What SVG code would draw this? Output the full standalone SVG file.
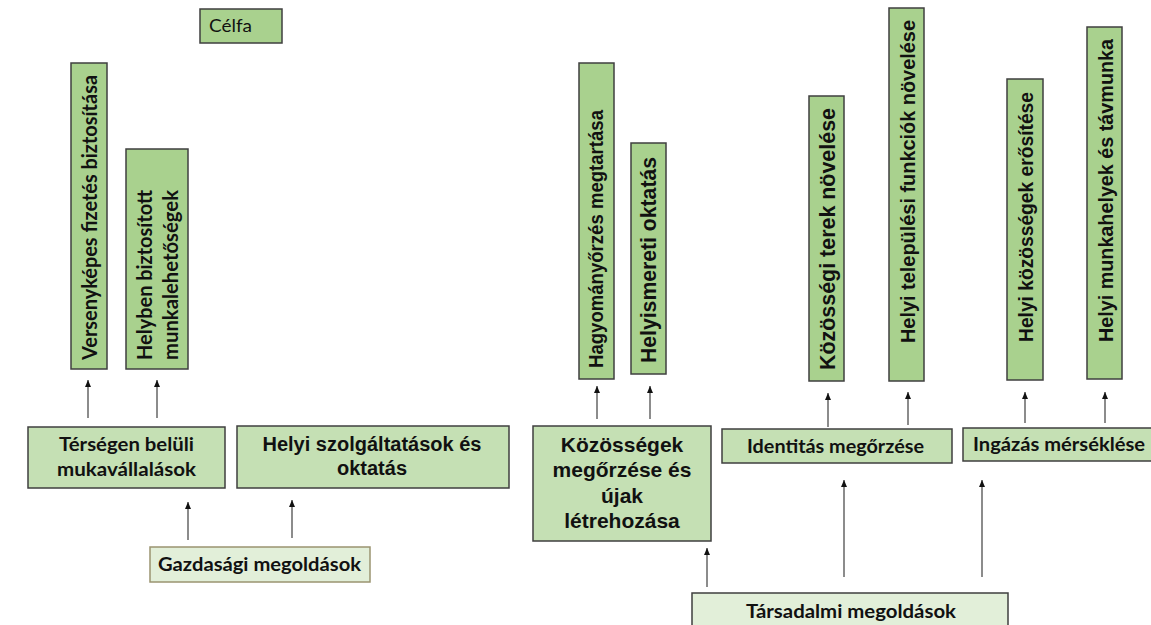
<svg xmlns="http://www.w3.org/2000/svg" width="1151" height="625" viewBox="0 0 1151 625">
<style>
.bar{fill:#a9d18e;stroke:#3f3f3f;stroke-width:1.5}
.box{fill:#c5e0b4;stroke:#3f3f3f;stroke-width:1.5}
.root{fill:#e2efd9;stroke:#3f3f3f;stroke-width:1.5}
.gaz{fill:#e2efd9;stroke:#9a9470;stroke-width:1.5}
.ar{font-family:"Liberation Sans",Arial,sans-serif;font-weight:bold;fill:#111}
.ca{font-family:Lato,"Open Sans",sans-serif;font-weight:bold;fill:#111}
.cn{font-family:Lato,"Open Sans",sans-serif;fill:#111}
.mid{text-anchor:middle}
.conn line{stroke:#666;stroke-width:1.5;marker-end:url(#ah)}
</style>
<defs>
<marker id="ah" markerUnits="userSpaceOnUse" markerWidth="8" markerHeight="7" refX="7" refY="3" orient="auto">
<path d="M0,0 L7,3 L0,6 z" fill="#111"/>
</marker>
</defs>
<rect width="1151" height="625" fill="#fff"/>

<g id="celfa">
<rect class="bar" x="200" y="9" width="82" height="34"/>
<text class="cn" x="209" y="32" font-size="18" textLength="43" lengthAdjust="spacingAndGlyphs">Célfa</text>
</g>

<g id="versenykepes">
<rect class="bar" x="71" y="63" width="36" height="306"/>
<text class="ca" transform="translate(97,360) rotate(-90)" font-size="20.5" textLength="285" lengthAdjust="spacingAndGlyphs">Versenyképes fizetés biztosítása</text>
</g>
<g id="helyben">
<rect class="bar" x="126" y="149" width="62" height="220"/>
<text class="ca" transform="translate(152,360) rotate(-90)" font-size="20.5" textLength="170" lengthAdjust="spacingAndGlyphs">Helyben biztosított</text>
<text class="ca" transform="translate(178,360) rotate(-90)" font-size="20.5" textLength="170" lengthAdjust="spacingAndGlyphs">munkalehetőségek</text>
</g>

<g id="tersegen">
<rect class="box" x="28" y="427" width="197" height="61"/>
<text class="ca mid" x="126.5" y="451" font-size="19.5" textLength="135" lengthAdjust="spacingAndGlyphs">Térségen belüli</text>
<text class="ca mid" x="126.5" y="476" font-size="19.5" textLength="139" lengthAdjust="spacingAndGlyphs">mukavállalások</text>
</g>
<g id="helyi-szolg">
<rect class="box" x="237" y="426" width="272" height="62"/>
<text class="ar mid" x="372" y="451" font-size="20">Helyi szolgáltatások és</text>
<text class="ar mid" x="372" y="475" font-size="20">oktatás</text>
</g>
<g id="gazdasagi">
<rect class="gaz" x="150" y="547" width="220" height="35"/>
<text class="ca mid" x="259.5" y="571" font-size="19.5" textLength="203" lengthAdjust="spacingAndGlyphs">Gazdasági megoldások</text>
</g>

<g id="hagyomany">
<rect class="bar" x="579" y="63" width="35" height="316"/>
<text class="ar" transform="translate(603,368) rotate(-90)" font-size="20" textLength="258" lengthAdjust="spacingAndGlyphs">Hagyományőrzés megtartása</text>
</g>
<g id="helyismereti">
<rect class="bar" x="631" y="143" width="35" height="231"/>
<text class="ar" transform="translate(656,363) rotate(-90)" font-size="21.5" textLength="206" lengthAdjust="spacingAndGlyphs">Helyismereti  oktatás</text>
</g>
<g id="kozossegi-terek">
<rect class="bar" x="809" y="96" width="35" height="285"/>
<text class="ar" transform="translate(835,370) rotate(-90)" font-size="22" textLength="262" lengthAdjust="spacingAndGlyphs">Közösségi terek növelése</text>
</g>
<g id="telepulesi">
<rect class="bar" x="889" y="8" width="35" height="373"/>
<text class="ar" transform="translate(915,343) rotate(-90)" font-size="21" textLength="323" lengthAdjust="spacingAndGlyphs">Helyi települési funkciók növelése</text>
</g>
<g id="helyi-kozossegek">
<rect class="bar" x="1007" y="79" width="36" height="301"/>
<text class="ar" transform="translate(1033,342) rotate(-90)" font-size="21" textLength="250" lengthAdjust="spacingAndGlyphs">Helyi közösségek erősítése</text>
</g>
<g id="munkahelyek">
<rect class="bar" x="1087" y="27" width="35" height="352"/>
<text class="ar" transform="translate(1113,342) rotate(-90)" font-size="21" textLength="303" lengthAdjust="spacingAndGlyphs">Helyi munkahelyek és távmunka</text>
</g>

<g id="kozossegek">
<rect class="box" x="533" y="426" width="178" height="115"/>
<text class="ar mid" x="622" y="452" font-size="21">Közösségek</text>
<text class="ar mid" x="622" y="477" font-size="21">megőrzése és</text>
<text class="ar mid" x="622" y="503" font-size="21">újak</text>
<text class="ar mid" x="622" y="528" font-size="21">létrehozása</text>
</g>
<g id="identitas">
<rect class="box" x="722" y="429" width="230" height="34"/>
<text class="ca" x="747" y="453" font-size="19.5" textLength="177" lengthAdjust="spacingAndGlyphs">Identitás megőrzése</text>
</g>
<g id="ingazas">
<rect class="box" x="963" y="428" width="195" height="33"/>
<text class="ca" x="973" y="451" font-size="19.5" textLength="172" lengthAdjust="spacingAndGlyphs">Ingázás mérséklése</text>
</g>
<g id="tarsadalmi">
<rect class="root" x="692" y="593" width="316" height="40"/>
<text class="ca" x="746" y="618" font-size="19.5" textLength="210" lengthAdjust="spacingAndGlyphs">Társadalmi megoldások</text>
</g>

<g id="connectors" class="conn">
<line x1="88" y1="418" x2="88" y2="380"/>
<line x1="157" y1="418" x2="157" y2="380"/>
<line x1="188" y1="540" x2="188" y2="502"/>
<line x1="292" y1="538" x2="292" y2="500"/>
<line x1="597" y1="419" x2="597" y2="386"/>
<line x1="650" y1="419" x2="650" y2="386"/>
<line x1="828" y1="427" x2="828" y2="393"/>
<line x1="908" y1="425" x2="908" y2="392"/>
<line x1="1025" y1="423" x2="1025" y2="392"/>
<line x1="1105" y1="423" x2="1105" y2="392"/>
<line x1="707" y1="587" x2="707" y2="548"/>
<line x1="844" y1="577" x2="844" y2="480"/>
<line x1="982" y1="577" x2="982" y2="480"/>
</g>
</svg>
